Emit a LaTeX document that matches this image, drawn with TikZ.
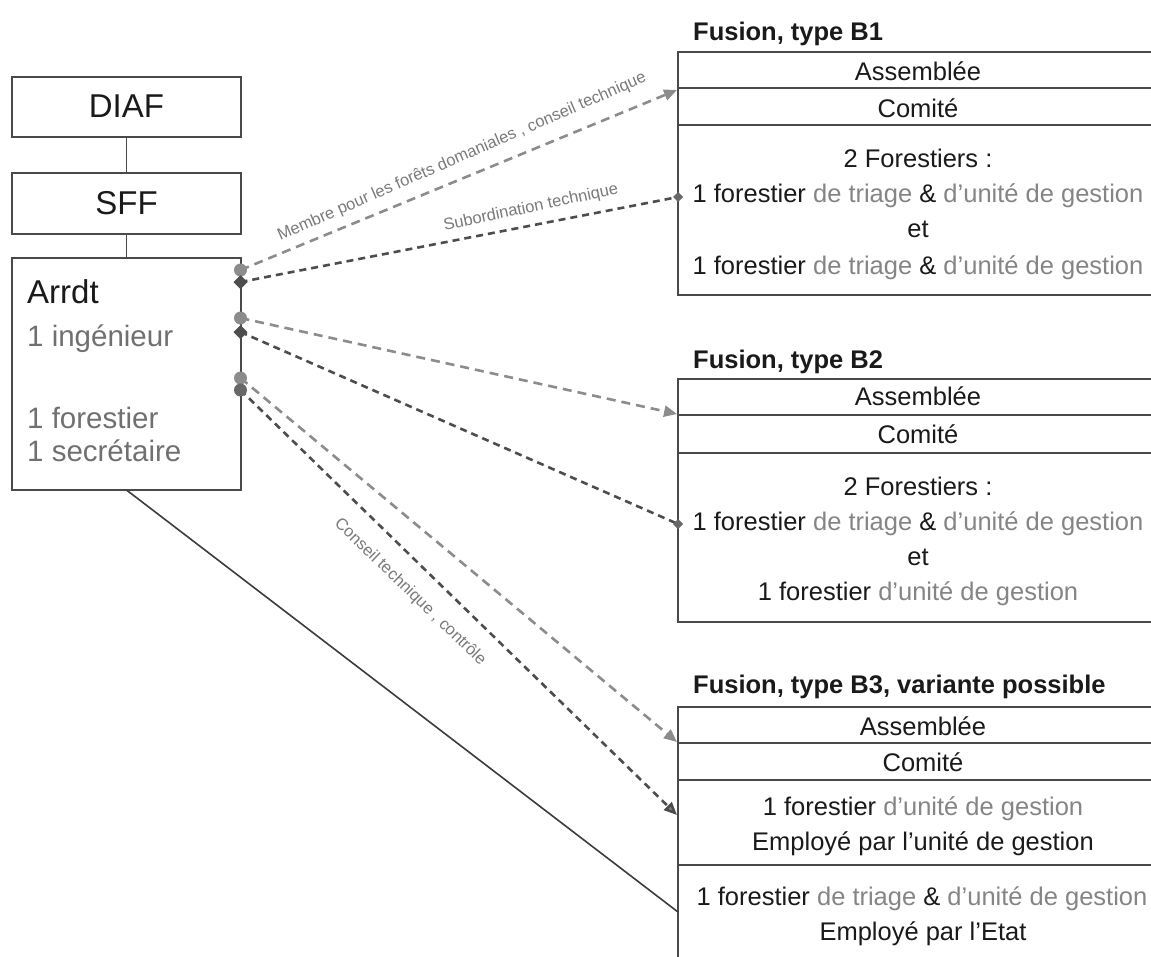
\documentclass[tikz,border=0pt]{standalone}
\usepackage{fontspec}
\setmainfont{Liberation Sans}
\usetikzlibrary{arrows.meta,calc}
\definecolor{inkc}{HTML}{1A1A1A}
\definecolor{greytxt}{HTML}{858585}
\definecolor{leftgrey}{HTML}{707070}
\definecolor{lightdash}{HTML}{8C8C8C}
\definecolor{darkdash}{HTML}{4D4D4D}
\definecolor{boxline}{HTML}{4A4A4A}
\definecolor{labelc}{HTML}{7A7A7A}
\newcommand{\gt}[1]{\textcolor{greytxt}{#1}}
\begin{document}
\begin{tikzpicture}[x=1pt,y=-1pt,
  boxc/.style={draw=boxline, line width=1.8pt, inner sep=0pt, outer sep=0pt},
  rtxt/.style={anchor=base, inner sep=0pt, font=\fontsize{25.5}{30}\selectfont, text=inkc},
  ttl/.style={anchor=base west, inner sep=0pt, font=\fontsize{25.5}{30}\selectfont\bfseries, text=inkc},
  bigtxt/.style={inner sep=0pt, font=\fontsize{33}{38}\selectfont, text=inkc},
  ltxt/.style={anchor=base west, inner sep=0pt, font=\fontsize{29.5}{34}\selectfont, text=leftgrey},
  lightln/.style={draw=lightdash, line width=2.6pt, dash pattern=on 9pt off 6pt},
  darkln/.style={draw=darkdash, line width=2.6pt, dash pattern=on 7pt off 5pt},
  arrl/.style={-{Triangle[length=13pt,width=11pt,fill=lightdash]}},
  arrd/.style={-{Triangle[length=13pt,width=11pt,fill=gray]}},
  lbl/.style={inner sep=0pt, font=\fontsize{16.5}{18}\selectfont, text=labelc},
  solidln/.style={draw=inkc!85, line width=1.6pt},
]
\useasboundingbox (0,0) rectangle (1151,956);
\clip (0,0) rectangle (1151,956);
\fill[white] (0,0) rectangle (1151,956);

% left hierarchy
\node[boxc, minimum width=229pt, minimum height=60pt] (diaf) at (126.5,107) {};
\node[bigtxt] (diaft) at (126.5,106) {DIAF};
\node[boxc, minimum width=229pt, minimum height=61pt] (sff) at (126.5,203.5) {};
\node[bigtxt] (sfft) at (126.5,203) {SFF};
\node[boxc, minimum width=229pt, minimum height=232pt] (arrdt) at (126.5,374) {};
\node[bigtxt, anchor=base west] (arrdtt) at (27,303) {Arrdt};
\node[ltxt] (ing) at (27,346) {1 ingénieur};
\node[ltxt] (fore) at (27,428) {1 forestier};
\node[ltxt] (secr) at (27,461) {1 secrétaire};
\draw[boxline, line width=1.5pt] (diaf) -- (sff);
\draw[boxline, line width=1.5pt] (sff) -- (arrdt);

% B1
\node[ttl] (b1t) at (693,40) {Fusion, type B1};
\node[boxc, minimum width=480pt, minimum height=243pt, anchor=north west] (b1) at (678,52) {};
\draw[boxc] (678,88) -- (1158,88);
\draw[boxc] (678,125) -- (1158,125);
\node[rtxt] (b1a) at (918,80) {Assemblée};
\node[rtxt] (b1c) at (918,117) {Comité};
\node[rtxt] (b1f) at (918,167) {2 Forestiers :};
\node[rtxt] (b1g) at (918,202) {1 forestier \gt{de triage} \& \gt{d’unité de gestion}};
\node[rtxt] (b1e) at (918,237) {et};
\node[rtxt] (b1h) at (918,274) {1 forestier \gt{de triage} \& \gt{d’unité de gestion}};

% B2
\node[ttl] (b2t) at (693,368) {Fusion, type B2};
\node[boxc, minimum width=480pt, minimum height=243pt, anchor=north west] (b2) at (678,379) {};
\draw[boxc] (678,415) -- (1158,415);
\draw[boxc] (678,453) -- (1158,453);
\node[rtxt] (b2a) at (918,405) {Assemblée};
\node[rtxt] (b2c) at (918,443) {Comité};
\node[rtxt] (b2f) at (918,495) {2 Forestiers :};
\node[rtxt] (b2g) at (918,530) {1 forestier \gt{de triage} \& \gt{d’unité de gestion}};
\node[rtxt] (b2e) at (918,565) {et};
\node[rtxt] (b2h) at (918,600) {1 forestier \gt{d’unité de gestion}};

% B3
\node[ttl] (b3t) at (693,693) {Fusion, type B3, variante possible};
\node[boxc, minimum width=490pt, minimum height=263pt, anchor=north west] (b3) at (678,707) {};
\draw[boxc] (678,743) -- (1168,743);
\draw[boxc] (678,780) -- (1168,780);
\draw[boxc] (678,865) -- (1168,865);
\node[rtxt] (b3a) at (923,735) {Assemblée};
\node[rtxt] (b3c) at (923,771) {Comité};
\node[rtxt] (b3f) at (923,815) {1 forestier \gt{d’unité de gestion}};
\node[rtxt] (b3g) at (923,850) {Employé par l’unité de gestion};
\node[rtxt] (b3h) at (922,905) {1 forestier \gt{de triage} \& \gt{d’unité de gestion}};
\node[rtxt] (b3i) at (923,940) {Employé par l’Etat};

% connector ends
\coordinate (s1) at (240.5,270);
\coordinate (s2) at (240.5,282);
\coordinate (s3) at (240.5,318);
\coordinate (s4) at (240.5,332);
\coordinate (s5) at (240.5,378);
\coordinate (s6) at (240.5,390);
\coordinate (t1) at (677,90);
\coordinate (t2) at (678,197);
\coordinate (t3) at (677,414);
\coordinate (t4) at (678,524);
\coordinate (t5) at (677,742);
\coordinate (t6) at (677,815);
\coordinate (t7) at (678,912);

% connectors
\draw[solidln] (arrdt.south) -- (t7);
\draw[lightln, arrl] (s1) -- (t1);
\draw[darkln] (s2) -- (t2);
\draw[lightln, arrl] (s3) -- (t3);
\draw[darkln] (s4) -- (t4);
\draw[lightln, arrl] (s5) -- (t5);
\draw[darkln, arrd] (s6) -- (t6);

% end markers
\fill[lightdash] (s1) circle (6.5pt);
\fill[darkdash] ($(s2)+(-7,0)$) -- ($(s2)+(0,-7)$) -- ($(s2)+(7,0)$) -- ($(s2)+(0,7)$) -- cycle;
\fill[lightdash] (s3) circle (6.5pt);
\fill[darkdash] ($(s4)+(-7,0)$) -- ($(s4)+(0,-7)$) -- ($(s4)+(7,0)$) -- ($(s4)+(0,7)$) -- cycle;
\fill[lightdash] (s5) circle (6.5pt);
\fill[darkdash!85] (s6) circle (6.5pt);
\fill[darkdash!85] ($(t2)+(-5,0)$) -- ($(t2)+(0,-5)$) -- ($(t2)+(5,0)$) -- ($(t2)+(0,5)$) -- cycle;
\fill[darkdash!85] ($(t4)+(-5,0)$) -- ($(t4)+(0,-5)$) -- ($(t4)+(5,0)$) -- ($(t4)+(0,5)$) -- cycle;

% labels
\node[lbl, rotate=23.5] (l1) at (462,157) {Membre pour les forêts domaniales , conseil technique};
\node[lbl, rotate=12] (l2) at (531,208) {Subordination technique};
\node[lbl, rotate=-44] (l3) at (410,592) {Conseil technique , contrôle};
\end{tikzpicture}
\end{document}
